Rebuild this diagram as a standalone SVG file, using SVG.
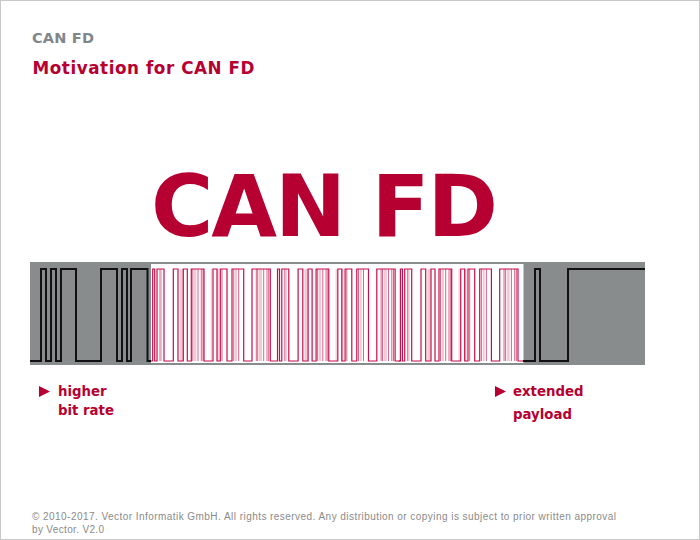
<svg xmlns="http://www.w3.org/2000/svg" xmlns:xlink="http://www.w3.org/1999/xlink" width="700" height="540" viewBox="0 0 700 540">
<style>
.red{fill:#b70032}
.bold{font-family:"DejaVu Sans","Liberation Sans",sans-serif;font-weight:bold}
.sig{fill:none;stroke:#111;stroke-width:2;stroke-linejoin:miter}
.rsig{fill:none;stroke:#c4104a;stroke-width:1.2;stroke-linejoin:miter}
.rline{stroke:#c4104a;stroke-width:1;opacity:0.65}
.pink{fill:#d03a64;opacity:0.28}
.foot{font-family:"Liberation Sans",Arial,sans-serif;font-size:10px;fill:#8a8a8a}
</style>
<defs>
<g id="period">
<rect class="pink" x="28.7" y="269" width="3.3" height="92"/>
<rect class="pink" x="43" y="269" width="2.3" height="92"/>
<rect class="pink" x="59.8" y="269" width="1.2" height="92"/>
<rect class="pink" x="66" y="269" width="1.7" height="92"/>
<rect class="pink" x="84" y="269" width="2" height="92"/>
<rect class="pink" x="108" y="269" width="3" height="92"/>
<g class="rline">
<line x1="9" y1="269" x2="9" y2="361"/>
<line x1="10.3" y1="269" x2="10.3" y2="361" opacity="0.5"/>
<line x1="41.8" y1="269" x2="41.8" y2="361"/>
<line x1="47" y1="269" x2="47" y2="361"/>
<line x1="50.3" y1="269" x2="50.3" y2="361"/>
<line x1="52" y1="269" x2="52" y2="361"/>
<line x1="71" y1="269" x2="71" y2="361"/>
<line x1="82.7" y1="269" x2="82.7" y2="361"/>
<line x1="87.7" y1="269" x2="87.7" y2="361"/>
<line x1="105.3" y1="269" x2="105.3" y2="361"/>
<line x1="106.7" y1="269" x2="106.7" y2="361"/>
<line x1="112.7" y1="269" x2="112.7" y2="361"/>
<line x1="116" y1="269" x2="116" y2="361"/>
<line x1="117.7" y1="269" x2="117.7" y2="361"/>
</g>
<path class="rsig" d="M0,361 H1.7 V269 H3.7 V361 H6 V269 H13 V361 H22.3 V269 H27 V361 H32.3 V269 H36.3 V361 H40.3 V269 H53 V361 H62 V269 H66 V361 H69.3 V269 H76 V361 H81 V269 H92.7 V361 H101 V269 H119.3 V361 H124.8"/>
</g>
</defs>
<rect x="0.5" y="0.5" width="699" height="539" fill="#fff" stroke="#c8c8c8"/>
<g id="header">
<text class="bold" x="32" y="43.3" font-size="14.5" fill="#80868a" textLength="62">CAN FD</text>
<text class="bold red" x="32.5" y="74" font-size="16.8" textLength="222">Motivation for CAN FD</text>
</g>
<g id="title">
<text class="bold red" x="151" y="236" font-size="85" textLength="347">CAN FD</text>
</g>
<g id="bus">
<rect x="30" y="262" width="615" height="103" fill="#888c8d"/>
<rect x="151" y="264" width="372.5" height="99" fill="#fff"/>
</g>
<g id="connectors">
<path class="sig" d="M30,361 H41 V269 H46 V361 H51 V269 H56 V361 H61 V269 H76 V361 H101 V269 H117 V361 H122 V269 H127 V361 H131 V269 H147.5 V361 H151"/>
<g transform="translate(151,0)"><use xlink:href="#period"/></g>
<g transform="translate(275.8,0)"><use xlink:href="#period"/></g>
<g transform="translate(398.7,0)"><use xlink:href="#period"/></g>
<path class="sig" d="M523,361 H535 V269 H540 V361 H568 V269 H645"/>
</g>
<g id="label-bitrate">
<polygon class="red" points="39,386 50,391.5 39,397"/>
<text class="bold red" x="58" y="396" font-size="13.3">higher</text>
<text class="bold red" x="58" y="415" font-size="13.3">bit rate</text>
</g>
<g id="label-payload">
<polygon class="red" points="495,386 506,391.5 495,397"/>
<text class="bold red" x="513" y="396" font-size="13.3">extended</text>
<text class="bold red" x="513" y="419" font-size="13.3">payload</text>
</g>
<g id="footer">
<text class="foot" x="32" y="520" textLength="584">© 2010-2017. Vector Informatik GmbH. All rights reserved. Any distribution or copying is subject to prior written approval</text>
<text class="foot" x="32" y="533" textLength="72">by Vector. V2.0</text>
</g>
</svg>
